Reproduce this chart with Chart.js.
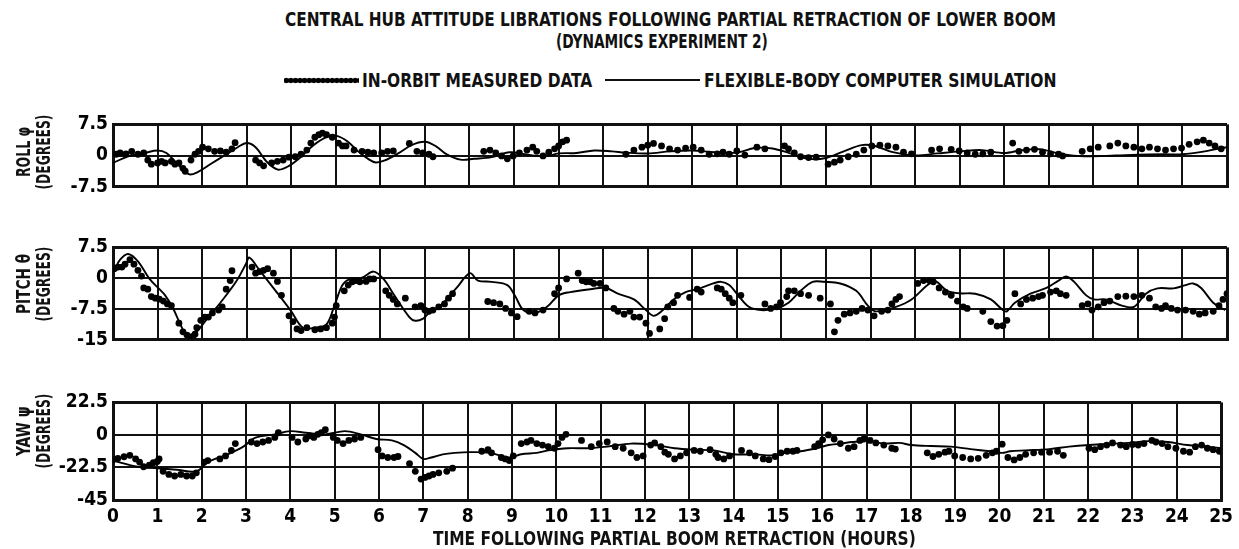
<!DOCTYPE html>
<html>
<head>
<meta charset="utf-8">
<script src="https://cdn.jsdelivr.net/npm/chart.js@4/dist/chart.umd.min.js"></script>
<style>
html,body{margin:0;padding:0;background:#fff;}
#wrap{position:relative;width:1239px;height:549px;overflow:hidden;background:#fff;}
canvas{position:absolute;left:0;}
.txt{position:absolute;white-space:nowrap;font-family:'Liberation Sans Narrow','DejaVu Sans Condensed','Arial Narrow',sans-serif;font-weight:bold;color:#111;line-height:1;}
#legDots{position:absolute;left:284px;top:77px;width:75px;height:7px;background-image:radial-gradient(circle at center,#000 0,#000 2.4px,rgba(0,0,0,0) 3.1px);background-size:4.6px 7px;background-repeat:repeat-x;}
#legLine{position:absolute;left:605px;top:79px;width:95px;height:0;border-top:2px solid #111;}
</style>
</head>
<body>
<div id="wrap">
<canvas id="roll"></canvas>
<canvas id="pitch"></canvas>
<canvas id="yaw"></canvas>
<div id="legDots"></div>
<div id="legLine"></div>
</div>
<script>
// ---------------- DATA ----------------
const hourTicks = [0,1,2,3,4,5,6,7,8,9,10,11,12,13,14,15,16,17,18,19,20,21,22,23,24,25];
const rollTicks = [-7.5, 0, 7.5];
const pitchTicks = [-15, -7.5, 0, 7.5];
const yawTicks = [-45, -22.5, 0, 22.5];

// ROLL - measured
const rollDotHours = [0.07,0.16,0.29,0.42,0.56,0.69,0.78,0.86,1.0,1.09,1.17,1.31,1.39,1.48,1.57,1.62,1.75,1.84,1.92,2.01,2.14,2.28,2.41,2.54,2.67,2.74,3.2,3.29,3.38,3.56,3.69,3.82,3.95,4.09,4.22,4.35,4.44,4.53,4.62,4.7,4.79,4.92,5.06,5.15,5.23,5.41,5.59,5.72,5.85,6.03,6.16,6.29,6.65,6.82,6.95,7.09,7.18,8.32,8.46,8.59,8.72,8.85,8.98,9.12,9.29,9.42,9.51,9.65,9.78,9.91,10.0,10.09,10.18,
  11.51,11.69,11.87,12.0,12.13,12.31,12.49,12.67,12.85,13.02,13.2,13.38,13.56,13.69,13.83,14.0,14.18,14.45,14.63,15.07,15.16,15.29,15.43,15.61,15.78,16.05,16.19,16.32,16.5,16.68,16.85,17.03,17.21,17.39,17.57,17.74,17.92,18.37,18.55,18.81,18.99,19.17,19.35,19.52,19.7,20.19,20.33,20.5,20.68,20.86,21.04,21.22,21.31,21.75,21.93,22.11,22.37,22.55,22.73,22.91,23.09,23.26,23.44,23.62,23.8,23.98,24.15,24.33,24.47,24.6,24.73,24.87];
const rollDotDeg = [0.3,0.6,0.4,1.0,0.3,0.6,-1.1,-2.1,-1.8,-1.4,-1.8,-1.4,-2.1,-1.8,-3.1,-3.8,-1.1,0.3,1.0,2.0,1.6,1.0,1.1,0.8,1.6,3.1,-1.1,-1.8,-2.5,-1.8,-1.4,-1.1,-0.4,-0.3,0.3,1.3,3.0,4.4,5.0,5.4,5.0,4.4,3.0,2.3,2.3,1.3,1.0,0.8,0.6,0.6,1.0,1.1,2.9,1.0,0.6,0.3,-0.3,1.0,1.3,0.6,-0.1,-0.8,-0.1,0.6,1.3,2.0,1.0,-0.1,0.8,1.6,2.3,3.3,3.7,
  0.3,1.3,2.0,2.5,2.9,2.3,1.6,1.3,1.8,2.0,1.3,0.3,0.4,0.8,0.3,1.1,0.1,2.0,1.6,2.3,1.6,0.6,-0.3,-0.5,-0.4,-2.1,-1.6,-1.1,-0.3,0.3,1.3,2.3,2.5,2.3,2.0,0.8,0.4,1.3,1.6,1.5,1.1,0.6,0.3,0.4,0.8,3.0,1.0,1.3,1.5,0.8,0.4,0.3,-0.1,1.0,1.6,2.0,2.3,3.0,2.3,2.0,1.6,2.0,1.6,1.3,1.6,1.8,2.7,3.3,3.7,3.0,2.3,1.6];
// ROLL - simulation
const rollSimHours = [0,0.2,0.4,0.7,1.0,1.2,1.4,1.7,1.9,2.2,2.5,2.8,3.0,3.2,3.45,3.7,3.95,4.2,4.5,4.8,5.0,5.25,5.5,5.75,5.9,6.1,6.4,6.7,7.0,7.25,7.5,7.8,8.1,8.5,8.9,9.3,9.7,10.0,10.4,10.8,11.2,11.5,12.0,12.5,13.0,13.5,14.0,14.4,14.8,15.2,15.6,16.0,16.4,16.8,17.1,17.5,18.0,18.5,19.0,19.5,20.0,20.4,20.8,21.3,21.8,22.5,23.0,23.6,24.0,24.5,25.0];
const rollSimDeg = [-1.8,-0.8,0.0,0.6,1.2,0.6,-1.5,-4.5,-4.0,-2.0,0.0,2.0,3.0,2.0,-1.5,-3.4,-2.5,-0.5,2.5,4.5,4.8,3.5,1.0,-1.0,-1.7,-1.2,0.5,2.5,3.3,2.2,0.2,-1.0,-0.8,-0.4,0.8,0.2,-0.2,0.5,0.6,1.2,1.0,0.7,0.5,1.0,1.2,0.8,0.7,1.8,1.7,0.5,-0.8,-0.6,1.0,2.5,2.3,0.8,0.0,0.5,1.0,1.3,0.6,1.3,1.5,0.3,-0.2,0.0,0.2,0.3,0.3,1.0,2.0];

// PITCH - measured
const pitchDotHours = [0.03,0.11,0.2,0.27,0.38,0.47,0.56,0.64,0.69,0.78,0.86,0.95,1.04,1.13,1.22,1.31,1.48,1.57,1.66,1.79,1.84,1.88,1.97,2.06,2.14,2.23,2.37,2.45,2.54,2.63,2.67,3.12,3.2,3.29,3.38,3.47,3.6,3.69,3.78,3.95,4.04,4.13,4.22,4.35,4.53,4.66,4.79,4.92,4.97,5.01,5.19,5.28,5.37,5.45,5.54,5.68,5.76,5.85,6.12,6.2,6.29,6.38,6.56,6.78,6.91,7.0,7.09,7.18,7.31,7.44,7.53,7.62,8.41,8.54,8.68,8.81,8.94,9.07,9.34,9.47,9.65,9.91,10.0,10.18,10.44,10.53,10.62,10.71,10.79,10.93,11.06,11.24,
  11.33,11.47,11.6,11.69,11.82,11.96,12.04,12.27,12.38,12.45,12.58,12.67,12.94,13.11,13.2,13.56,13.65,13.74,13.83,13.91,14.09,14.63,14.76,14.89,14.98,15.12,15.16,15.29,15.43,15.61,15.87,16.1,16.19,16.27,16.41,16.54,16.68,16.81,16.94,17.08,17.25,17.39,17.48,17.57,17.65,18.06,18.19,18.32,18.41,18.54,18.68,18.81,18.95,19.08,19.17,19.52,19.7,19.84,19.97,20.06,20.24,20.37,20.5,20.64,20.77,20.86,21.04,21.17,21.26,21.39,21.75,21.88,21.97,22.11,22.24,22.37,22.55,22.73,22.91,23.09,23.26,23.4,23.53,23.62,23.75,23.89,24.07,24.24,24.38,24.51,24.69,24.82,24.91,25.0];
const pitchDotDeg = [2.3,2.7,2.7,3.4,4.5,3.4,1.9,0.5,-2.4,-2.7,-4.5,-4.9,-5.1,-5.6,-6.3,-6.7,-11.0,-13.1,-13.9,-14.2,-13.7,-12.1,-10.3,-9.5,-9.5,-8.5,-7.8,-7.0,-2.7,-0.6,1.8,2.7,1.2,1.6,1.9,2.3,1.2,-0.8,-4.2,-9.2,-10.6,-12.4,-12.8,-12.1,-12.6,-12.4,-12.1,-11.0,-9.5,-6.7,-3.1,-1.7,-0.9,-0.6,-0.9,-0.8,-0.2,-0.2,-3.1,-4.2,-5.2,-6.3,-4.9,-7.0,-6.7,-7.8,-8.1,-7.8,-7.0,-6.3,-4.9,-3.8,-5.7,-6.0,-6.3,-7.4,-8.5,-9.4,-8.1,-8.5,-7.8,-3.8,-2.4,-0.2,1.2,-0.6,-0.9,-0.9,-1.3,-1.3,-2.4,-7.4,
  -8.1,-8.8,-8.1,-9.5,-9.5,-11.0,-13.5,-12.4,-9.9,-7.0,-6.0,-4.2,-4.7,-2.7,-3.4,-2.4,-2.7,-3.8,-4.9,-6.0,-4.2,-6.3,-7.4,-7.0,-6.0,-4.5,-3.1,-3.1,-3.8,-4.2,-4.9,-6.3,-13.1,-10.3,-8.8,-8.5,-8.1,-7.4,-7.8,-9.2,-8.1,-7.8,-6.3,-5.2,-4.5,-1.3,-0.6,-0.6,-0.9,-2.4,-3.4,-4.2,-5.6,-7.0,-7.4,-8.1,-10.6,-11.7,-11.6,-10.3,-3.8,-6.3,-5.2,-4.9,-4.5,-4.2,-3.4,-3.1,-3.8,-4.2,-6.7,-6.3,-7.8,-7.0,-6.0,-5.6,-4.5,-4.4,-4.5,-4.2,-4.9,-7.0,-7.4,-6.7,-7.4,-7.8,-7.8,-8.1,-8.8,-8.5,-8.1,-6.7,-5.2,-3.8];
// PITCH - simulation
const pitchSimHours = [0.03,0.16,0.34,0.56,0.82,1.04,1.17,1.35,1.53,1.7,1.88,2.14,2.41,2.76,2.98,3.06,3.29,3.65,4.0,4.26,4.53,4.79,4.97,5.15,5.32,5.59,5.85,6.07,6.29,6.65,6.78,6.96,7.09,7.35,7.71,8.01,8.19,8.5,8.85,9.03,9.21,9.47,9.74,10.0,10.26,10.71,11.06,11.33,11.69,11.96,12.13,12.31,12.58,12.85,13.11,13.47,13.65,13.83,14.0,14.27,14.54,14.89,15.16,15.43,15.7,15.96,16.32,16.68,16.94,17.12,17.57,17.92,18.28,18.46,18.72,18.99,19.35,19.7,19.97,20.06,20.24,20.59,20.95,21.22,21.39,21.57,21.84,22.02,22.28,22.64,22.91,23.18,23.44,23.8,24.07,24.24,24.42,24.69,24.96];
const pitchSimDeg = [1.9,4.5,5.9,4.1,-0.2,-2.7,-4.2,-7.4,-11.7,-14.6,-13.1,-9.5,-6.0,-0.9,3.4,5.0,1.9,-3.1,-8.1,-12.1,-12.1,-11.3,-6.7,-1.7,-0.2,0.1,1.6,-0.2,-3.8,-9.5,-10.4,-9.9,-8.5,-6.7,-2.4,1.2,-0.6,-0.9,-1.7,-4.5,-7.8,-8.5,-7.0,-4.2,-3.4,-2.7,-2.4,-3.8,-5.2,-7.8,-9.2,-8.1,-5.2,-3.4,-2.7,-1.3,-0.9,-1.7,-3.8,-7.0,-7.8,-7.4,-6.0,-3.1,-0.9,-0.9,-1.3,-3.1,-6.7,-8.1,-7.0,-5.2,-1.7,-0.8,-3.1,-3.7,-3.8,-5.2,-7.8,-8.1,-6.0,-3.8,-2.4,-0.6,0.4,-0.9,-4.2,-5.2,-5.2,-6.7,-7.0,-3.8,-2.5,-2.5,-1.7,-1.3,-2.4,-6.0,-7.8];

// YAW - measured
const yawDotHours = [0,0.11,0.25,0.38,0.51,0.6,0.69,0.82,0.91,1.0,1.04,1.13,1.26,1.39,1.53,1.66,1.79,1.88,2.06,2.14,2.41,2.54,2.67,2.76,3.12,3.25,3.38,3.51,3.65,3.73,4.04,4.17,4.35,4.44,4.53,4.62,4.7,4.79,4.97,5.06,5.19,5.32,5.45,5.59,5.98,6.07,6.2,6.34,6.43,6.69,6.82,6.95,7.04,7.13,7.22,7.35,7.53,7.66,8.32,8.46,8.54,8.76,8.85,8.94,9.03,9.21,9.34,9.43,9.56,9.69,9.82,9.96,10.04,10.13,10.22,10.57,10.79,10.97,11.15,
  11.33,11.51,11.69,11.82,11.96,12.13,12.22,12.36,12.45,12.53,12.67,12.8,12.94,13.11,13.25,13.47,13.6,13.65,13.78,13.91,14.18,14.36,14.49,14.67,14.8,14.94,15.07,15.21,15.34,15.43,15.83,15.92,16.01,16.14,16.27,16.41,16.59,16.72,16.85,16.94,17.08,17.21,17.39,17.57,17.65,18.37,18.5,18.63,18.77,18.86,18.99,19.17,19.35,19.52,19.7,19.84,19.93,20.06,20.19,20.33,20.46,20.59,20.77,20.95,21.13,21.31,21.44,22.02,22.15,22.28,22.42,22.55,22.73,22.86,23.0,23.13,23.26,23.44,23.53,23.67,23.8,23.98,24.15,24.29,24.42,24.56,24.69,24.82,24.96];
const yawDotDeg = [-17.1,-16.2,-15.1,-14.1,-16.6,-18.8,-22.0,-20.9,-19.2,-18.3,-16.6,-25.2,-27.3,-28.4,-27.3,-28.4,-28.4,-26.2,-18.8,-17.7,-16.6,-14.5,-10.7,-6.0,-4.9,-6.0,-4.9,-3.8,-1.7,1.5,-1.7,-4.9,-2.8,-0.6,-1.7,0.4,1.5,3.6,-1.7,-3.8,-6.0,-3.8,-2.8,-1.7,-10.2,-14.5,-15.6,-15.6,-14.9,-19.8,-25.2,-30.5,-29.4,-28.4,-27.3,-26.2,-25.2,-23.0,-11.3,-10.2,-12.4,-15.6,-16.6,-17.7,-14.5,-6.0,-4.9,-3.8,-6.0,-7.0,-8.1,-9.2,-6.0,-1.7,0.4,-3.8,-8.1,-6.0,-4.9,
  -8.1,-9.2,-12.4,-15.6,-14.5,-7.0,-5.5,-8.1,-11.9,-13.4,-16.6,-14.5,-12.4,-10.7,-11.3,-10.2,-13.4,-15.6,-16.6,-14.5,-10.7,-12.4,-14.5,-16.6,-17.1,-14.9,-12.4,-11.3,-11.3,-10.7,-8.1,-6.0,-3.4,0.0,-2.8,-6.0,-9.2,-8.1,-3.8,-2.8,-3.8,-5.5,-7.0,-9.2,-9.8,-12.4,-14.9,-13.4,-11.9,-11.3,-14.5,-15.6,-16.6,-16.2,-14.1,-12.4,-11.3,-6.4,-15.6,-17.3,-15.6,-13.4,-12.4,-11.9,-11.9,-11.3,-14.1,-9.2,-10.2,-8.1,-7.0,-5.5,-7.0,-8.1,-6.6,-7.0,-6.0,-3.8,-4.9,-6.0,-8.1,-9.2,-11.3,-11.9,-8.1,-7.0,-9.2,-10.2,-11.3];
// YAW - simulation
const yawSimHours = [0,0.56,1.0,1.44,1.88,2.14,2.59,2.94,3.2,3.65,4.0,4.35,4.79,5.23,5.59,5.94,6.29,6.56,6.82,7.0,7.18,7.44,7.71,8.06,8.5,8.94,9.21,9.56,9.82,10.26,10.71,11.15,11.69,12.22,12.67,13.11,13.56,14.0,14.45,14.89,15.16,15.52,15.87,16.14,16.41,16.68,17.03,17.39,17.74,18.01,18.46,18.9,19.35,19.79,20.06,20.24,20.59,21.13,21.57,22.02,22.91,23.35,23.8,24.24,24.69,25.0];
const yawSimDeg = [-17.7,-22.0,-23.0,-24.1,-25.2,-18.8,-13.4,-8.1,-2.1,0.4,2.6,1.5,0.4,2.6,0.4,-2.8,-3.8,-7.0,-12.4,-16.6,-15.6,-13.4,-12.4,-11.9,-12.4,-15.6,-13.4,-12.4,-10.7,-9.2,-9.2,-8.1,-6.0,-7.0,-9.2,-10.2,-10.7,-13.4,-13.4,-14.1,-12.4,-11.3,-9.2,-7.0,-6.0,-4.9,-4.3,-6.0,-5.5,-7.0,-7.7,-8.1,-9.8,-11.3,-12.4,-11.3,-10.7,-9.8,-8.1,-7.0,-5.5,-4.3,-4.9,-7.0,-8.1,-9.2];

// texts
const titleLine1 = "CENTRAL HUB ATTITUDE LIBRATIONS FOLLOWING PARTIAL RETRACTION OF LOWER BOOM";
const titleLine2 = "(DYNAMICS EXPERIMENT 2)";
const legendMeasured = "IN-ORBIT MEASURED DATA";
const legendSim = "FLEXIBLE-BODY COMPUTER SIMULATION";
const xTitle = "TIME FOLLOWING PARTIAL BOOM RETRACTION (HOURS)";
const yTitles = [["ROLL \u03C6", "(DEGREES)"], ["PITCH \u03B8", "(DEGREES)"], ["YAW \u03C8", "(DEGREES)"]];

// ---------------- DRAWING ----------------
const FONT = "'Liberation Sans Narrow', 'DejaVu Sans Condensed', 'Arial Narrow', sans-serif";
const wrap = document.getElementById('wrap');

function pts(xs, ys) { return xs.map((x, i) => ({ x: x, y: ys[i] })); }

function panel(id, top, height, padTop, padBottom, plotH, ticks, dotH, dotV, simH, simV, showX) {
  const c = document.getElementById(id);
  c.width = 1239; c.height = height;
  c.style.width = '1239px'; c.style.height = height + 'px';
  c.style.top = top + 'px';
  const xAxisH = height - padTop - padBottom - plotH;
  const yMin = ticks[0], yMax = ticks[ticks.length - 1];
  const yStep = ticks[1] - ticks[0];
  const xMin = hourTicks[0], xMax = hourTicks[hourTicks.length - 1];
  new Chart(c, {
    type: 'scatter',
    data: {
      datasets: [
        { data: pts(simH, simV), showLine: true, borderColor: '#000', borderWidth: 1.9, pointRadius: 0, tension: 0.35, order: 2 },
        { data: pts(dotH, dotV), showLine: false, pointRadius: 3.4, pointBackgroundColor: '#000', pointBorderWidth: 0, order: 1 }
      ]
    },
    options: {
      responsive: false, animation: false, events: [],
      devicePixelRatio: 1,
      layout: { padding: { left: 0, right: 12, top: padTop, bottom: padBottom } },
      plugins: { legend: { display: false }, tooltip: { enabled: false }, title: { display: false } },
      scales: {
        x: {
          type: 'linear', min: xMin, max: xMax,
          ticks: { stepSize: 1, display: showX, padding: 6, autoSkip: false, maxRotation: 0,
                   font: { family: FONT, size: 19, weight: 'bold' }, color: '#000' },
          grid: { color: '#111', drawTicks: false,
                  lineWidth: ctx => (ctx.tick && (ctx.tick.value === xMin || ctx.tick.value === xMax)) ? 3 : 2 },
          border: { display: true, color: '#111', width: 3 },
          afterFit: s => { s.height = xAxisH; }
        },
        y: {
          type: 'linear', min: yMin, max: yMax,
          ticks: { stepSize: yStep, padding: 5, font: { family: FONT, size: 19, weight: 'bold' }, color: '#000' },
          grid: { color: '#111', drawTicks: false,
                  lineWidth: ctx => (ctx.tick && (ctx.tick.value === yMin || ctx.tick.value === yMax)) ? 3 : 2 },
          border: { display: true, color: '#111', width: 3 },
          afterFit: s => { s.width = 113; }
        }
      }
    }
  });
}

panel('roll', 108, 95, 10, 11, 74, rollTicks, rollDotHours, rollDotDeg, rollSimHours, rollSimDeg, false);
panel('pitch', 231, 125, 10, 11, 104, pitchTicks, pitchDotHours, pitchDotDeg, pitchSimHours, pitchSimDeg, false);
panel('yaw', 386, 163, 10, 0, 104, yawTicks, yawDotHours, yawDotDeg, yawSimHours, yawSimDeg, true);

function placeText(text, left, width, cy, size) {
  const el = document.createElement('div');
  el.className = 'txt';
  el.textContent = text;
  el.style.fontSize = size + 'px';
  el.style.left = '0px'; el.style.top = '0px';
  wrap.appendChild(el);
  const w = el.offsetWidth, h = el.offsetHeight;
  el.style.left = left + 'px';
  el.style.top = (cy - h / 2) + 'px';
  el.style.transformOrigin = '0 50%';
  el.style.transform = 'scaleX(' + (width / w) + ')';
}
function placeVText(text, cx, cy, length, size) {
  const el = document.createElement('div');
  el.className = 'txt';
  el.textContent = text;
  el.style.fontSize = size + 'px';
  el.style.left = '0px'; el.style.top = '0px';
  wrap.appendChild(el);
  const w = el.offsetWidth, h = el.offsetHeight;
  el.style.transformOrigin = '0 0';
  el.style.transform = 'translate(' + cx + 'px,' + cy + 'px) rotate(-90deg) scaleX(' + (length / w) + ') translate(' + (-w / 2) + 'px,' + (-h / 2) + 'px)';
}

placeText(titleLine1, 285, 771, 19, 20);
placeText(titleLine2, 556, 212, 41, 20);
placeText(legendMeasured, 362, 230, 80, 20);
placeText(legendSim, 704, 353, 80, 20);
placeText(xTitle, 433, 483, 538, 20);

placeVText(yTitles[0][0], 23, 152, 50, 20);
placeVText(yTitles[0][1], 43, 152, 75, 20);
placeVText(yTitles[1][0], 23, 284, 60, 20);
placeVText(yTitles[1][1], 43, 284, 75, 20);
placeVText(yTitles[2][0], 23, 431, 50, 20);
placeVText(yTitles[2][1], 43, 431, 75, 20);
</script>
</body>
</html>
